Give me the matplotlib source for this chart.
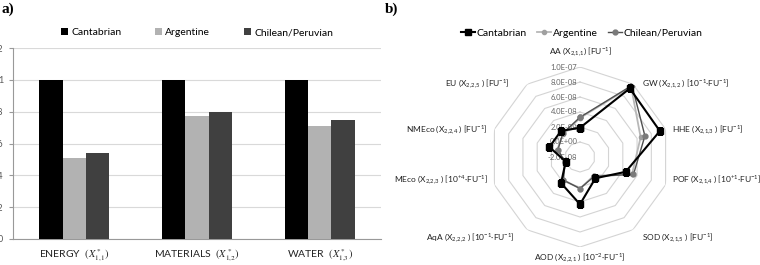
import numpy as np
import matplotlib.pyplot as plt

plt.rcParams['font.family'] = ['Lato', 'DejaVu Sans']
plt.rcParams['mathtext.fontset'] = 'custom'
plt.rcParams['mathtext.rm'] = 'Lato'
plt.rcParams['mathtext.it'] = 'Lato:italic'

# datos panel a)
groups = ['ENERGY', 'MATERIALS', 'WATER']
group_math = [r'$(X^*_{1{,}1})$', r'$(X^*_{1{,}2})$', r'$(X^*_{1{,}3})$']
series = ['Cantabrian', 'Argentine', 'Chilean/Peruvian']
cantabrian = [1.0, 1.0, 1.0]
argentine = [0.508, 0.773, 0.71]
chilean = [0.54, 0.80, 0.745]
bar_ticks = [0, 0.2, 0.4, 0.6, 0.8, 1.0, 1.2]
bar_tick_labels = ['0', '0.2', '0.4', '0.6', '0.8', '1', '1.2']

# datos panel b)
radar_axes = [r'AA (X$_{2{,}1{,}1}$) [FU$^{-1}$]',
              r'GW (X$_{2{,}1{,}2}$ ) [10$^{-1}$·FU$^{-1}$]',
              r'HHE (X$_{2{,}1{,}3}$ ) [FU$^{-1}$]',
              r'POF (X$_{2{,}1{,}4}$ ) [10$^{+1}$·FU$^{-1}$]',
              r'SOD (X$_{2{,}1{,}5}$ ) [FU$^{-1}$]',
              r'AOD (X$_{2{,}2{,}1}$ ) [10$^{-2}$·FU$^{-1}$]',
              r'AqA (X$_{2{,}2{,}2}$ ) [10$^{-1}$·FU$^{-1}$]',
              r'MEco (X$_{2{,}2{,}3}$ ) [10$^{+4}$·FU$^{-1}$]',
              r'NMEco (X$_{2{,}2{,}4}$ ) [FU$^{-1}$]',
              r'EU (X$_{2{,}2{,}5}$ ) [FU$^{-1}$]']
radar_cant = [1.9e-8, 9.3e-8, 9.2e-8, 4.4e-8, 1.5e-8, 4.3e-8, 2.3e-8, 0.0, 2.3e-8, 2.3e-8]
radar_arg = [3.2e-8, 9.6e-8, 6.5e-8, 5.3e-8, 1.1e-8, 2.2e-8, 1.8e-8, 0.1e-8, 1.2e-8, 1.8e-8]
radar_chil = [3.3e-8, 9.8e-8, 7.1e-8, 5.5e-8, 1.2e-8, 2.2e-8, 1.8e-8, 0.1e-8, 1.1e-8, 1.9e-8]
radar_ticks = [-2e-8, 0, 2e-8, 4e-8, 6e-8, 8e-8, 1e-7]

fig = plt.figure(figsize=(7.6, 2.65), dpi=100)

# ---------- a) barras
ax = fig.add_axes([13 / 760, 26 / 265, 368 / 760, 191 / 265])
x = np.arange(len(groups))
w = 0.19
colors = ['#000000', '#b2b2b2', '#404040']
for i, (vals, c) in enumerate(zip([cantabrian, argentine, chilean], colors)):
    ax.bar(x + (i - 1) * w, vals, w, color=c, label=series[i], zorder=3)
ax.set_xlim(-0.5, 2.5)
ax.set_ylim(0, 1.2)
ax.set_yticks(bar_ticks)
ax.set_yticklabels(bar_tick_labels)
ax.yaxis.grid(True, color='#d9d9d9', lw=0.8, zorder=0)
ax.set_xticks(x)
ax.set_xticklabels([g + '  ' + m for g, m in zip(groups, group_math)], fontsize=7.5)
for t in ax.get_xticklabels():
    t.set_math_fontfamily('stix')
ax.tick_params(axis='x', length=0, pad=6, colors='#222222')
ax.tick_params(axis='y', length=3, color='#999999', labelsize=6.5, labelcolor='#555555', pad=4)
for s in ['top', 'right']:
    ax.spines[s].set_visible(False)
ax.spines['left'].set_color('#999999')
ax.spines['bottom'].set_color('#999999')
ax.legend(loc='center', bbox_to_anchor=(0.5, 1.08), ncol=3, frameon=False, fontsize=7.5,
          handlelength=0.7, handleheight=0.7, columnspacing=3.2, handletextpad=0.3)

fig.text(2 / 760, 1 - 9 / 265, 'a)', fontsize=11, fontweight='bold', family='Liberation Serif', va='center')
fig.text(385 / 760, 1 - 9 / 265, 'b)', fontsize=11, fontweight='bold', family='Liberation Serif', va='center')

# ---------- b) radar
pr = fig.add_axes([490 / 760, 18 / 265, 180 / 760, 180 / 265], projection='polar')
theta = np.deg2rad(np.arange(len(radar_axes)) * 36)
closed = np.append(theta, theta[0])
pr.set_theta_zero_location('N')
pr.set_theta_direction(-1)
pr.set_ylim(radar_ticks[0], radar_ticks[-1])
pr.grid(False)
pr.spines['polar'].set_visible(False)
pr.set_xticks([])
pr.set_yticks([])
pr.patch.set_alpha(0)

for r in radar_ticks[1:]:
    pr.plot(closed, [r] * len(closed), color='#d4d4d4', lw=0.8, zorder=1)
for r in radar_ticks:
    pr.annotate(f'{r:.1E}', xy=(0, r), xytext=(-2, 0), textcoords='offset points',
                ha='right', va='center', fontsize=5.5, color='#666666')

def close(v):
    return list(v) + [v[0]]

pr.plot(closed, close(radar_arg), color='#b8b8b8', lw=1.3, marker='o', ms=3,
        mfc='#a0a0a0', mec='#a0a0a0', zorder=3, label='Argentine')
pr.plot(closed, close(radar_chil), color='#505050', lw=1.0, marker='o', ms=3.5,
        mfc='#7a7a7a', mec='#7a7a7a', zorder=4, label='Chilean/Peruvian')
pr.plot(closed, close(radar_cant), color='#000000', lw=1.5, marker='s', ms=4,
        zorder=5, label='Cantabrian')

offsets = [(0, 15), (9, 0), (6, -1), (6, 5), (9, -8), (0, -11), (-12, -8), (-6, 5), (-7, -1), (-17, 0)]
aligns = ['center', 'left', 'left', 'left', 'left', 'center', 'right', 'right', 'right', 'right']
for t, lab, off, ha in zip(theta, radar_axes, offsets, aligns):
    pr.annotate(lab, xy=(t, radar_ticks[-1]), xytext=(off[0] * 0.72, off[1] * 0.72),
                textcoords='offset points', ha=ha, va='center', fontsize=6.0, color='#222222')

h, l = pr.get_legend_handles_labels()
order = [2, 0, 1]
fig.legend([h[i] for i in order], [l[i] for i in order], loc='center',
           bbox_to_anchor=(582 / 760, 1 - 33 / 265), ncol=3, frameon=False, fontsize=7.5,
           handlelength=1.3, columnspacing=1.0, handletextpad=0.2)

plt.savefig('out.png', dpi=100)
